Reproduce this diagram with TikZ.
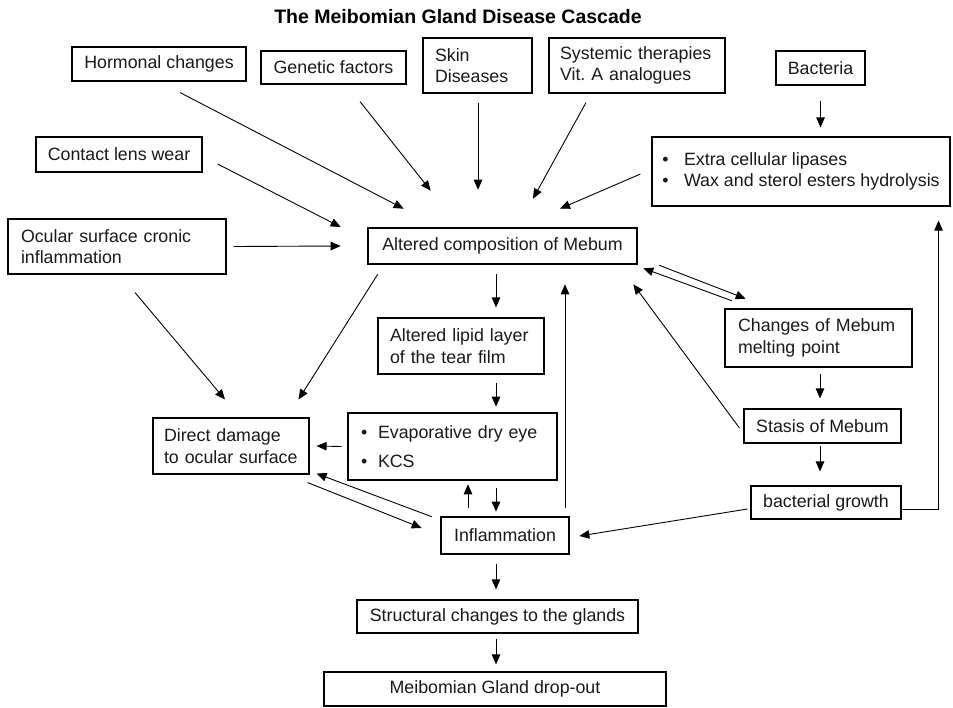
\documentclass[tikz,border=0pt]{standalone}
\usepackage{fontspec}
\setmainfont{Liberation Sans}
\usetikzlibrary{arrows.meta,calc}
\frenchspacing
\begin{document}
\begin{tikzpicture}[x=1pt,y=-1pt,
  box/.style={draw, line width=1.1pt, inner sep=0pt, font=\fontsize{17.8}{21.7}\selectfont, align=center, text=black!90},
  tbox/.style={box, line width=2.6pt},
  arr/.style={-{Triangle[length=10pt,width=8.5pt]}, line width=0.9pt},
]
\useasboundingbox (0,0) rectangle (953,707);

\node[font=\fontsize{19.5}{22}\selectfont\bfseries] (title) at (458,17) {The Meibomian Gland Disease Cascade};

% top row
\node[box, minimum width=174pt, minimum height=34pt] (horm) at (159,64) {Hormonal changes};
\node[box, minimum width=145pt, minimum height=33pt] (gen) at (333.5,67.5) {Genetic factors};
\node[box, align=left, inner xsep=12pt, text width=85pt, minimum height=55pt] (skin) at (477.5,65.5) {Skin\\Diseases};
\node[box, align=left, inner xsep=11pt, text width=154pt, minimum height=55pt] (sys) at (637,65.5) {Systemic therapies\\Vit.\ A analogues};
\node[box, minimum width=89pt, minimum height=34pt] (bact) at (820.5,68) {Bacteria};
\node[box, align=left, minimum width=298pt, minimum height=69pt] (extra) at (801,171.5) {\textbullet\hspace{15.5pt}Extra cellular lipases\\\textbullet\hspace{15.5pt}Wax and sterol esters hydrolysis};

% left column
\node[box, minimum width=166pt, minimum height=35pt] (contact) at (119,154.5) {Contact lens wear};
\node[box, align=left, inner xsep=13pt, text width=192pt, minimum height=55pt] (ocular) at (117,246.5) {Ocular surface cronic\\inflammation};

% centre
\node[tbox, minimum width=269pt, minimum height=36pt] (altered) at (502.5,246) {Altered composition of Mebum};
\node[box, align=left, inner xsep=12pt, text width=142pt, minimum height=56pt] (lipid) at (461,346) {Altered lipid layer\\of the tear film};
\node[tbox, align=left, inner xsep=13pt, text width=183pt, minimum height=67pt] (evap) at (452.5,446.5) {\textbullet\hspace{10.8pt}Evaporative dry eye\\[8pt]\textbullet\hspace{10.8pt}KCS};
\node[box, align=left, inner xsep=11pt, text width=134pt, minimum height=56pt] (direct) at (231,446) {Direct damage\\to ocular surface};
\node[tbox, minimum width=128pt, minimum height=37pt] (inflam) at (505,535.5) {Inflammation};
\node[box, minimum width=281pt, minimum height=33pt] (struct) at (497.5,616.5) {Structural changes to the glands};
\node[box, minimum width=342pt, minimum height=34pt] (drop) at (495,689) {Meibomian Gland drop-out};

% right column
\node[tbox, align=left, inner xsep=13pt, text width=161pt, minimum height=58pt] (melt) at (818.5,338) {Changes of Mebum\\melting point};
\node[box, minimum width=157pt, minimum height=34pt] (stasis) at (822.5,426) {Stasis of Mebum};
\node[box, minimum width=150pt, minimum height=33pt] (bg) at (826,502.5) {bacterial growth};

% arrows into altered composition
\draw[arr] ($(horm.south)+(21,11)$) -- ($(altered.north west)+(37,-18)$);
\draw[arr] ($(gen.south)+(26.5,17)$) -- ($(altered.north west)+(64,-36)$);
\draw[arr] ($(skin.south)+(0.5,9)$) -- ($(altered.north)+(-24.5,-37)$);
\draw[arr] ($(sys.south)+(-51,9)$) -- ($(altered.north)+(30.5,-28)$);
\draw[arr] ($(extra.west)+(-11,2.5)$) -- ($(altered.north)+(57.5,-18)$);
\draw[arr] ($(bact.south)+(0,15)$) -- ($(extra.north)+(19.5,-9)$);
\draw[arr] ($(contact.east)+(15,9.5)$) -- ($(altered.west)+(-26,-19)$);
\draw[arr] ($(ocular.east)+(7,0)$) -- ($(altered.west)+(-26,0)$);

% to direct damage
\draw[arr] ($(ocular.south)+(18,18)$) -- ($(direct.north)+(-6,-18)$);
\draw[arr] ($(altered.south west)+(11,9)$) -- ($(direct.north east)+(-11,-18)$);

% central chain
\draw[arr] ($(altered.south)+(-6.5,9)$) -- ($(lipid.north)+(35,-10)$);
\draw[arr] ($(lipid.south)+(35,8)$) -- ($(evap.north)+(43.5,-5)$);
\draw[arr] ($(inflam.north)+(60,-8)$) -- ($(altered.south)+(62.5,19)$);
\draw[arr] ($(evap.west)+(-5,0)$) -- ($(direct.east)+(7,0)$);
\draw[arr] ($(direct.south east)+(-2,8)$) -- ($(inflam.west)+(-18,-7.5)$);
\draw[arr] ($(inflam.north west)+(-8,1)$) -- ($(direct.south east)+(7,-1)$);
\draw[arr] ($(inflam.north)+(-37,-8)$) -- ($(evap.south)+(15.5,3)$);
\draw[arr] ($(evap.south)+(43.5,7)$) -- ($(inflam.north)+(-9,-4)$);
\draw[arr] ($(inflam.south)+(-9,9)$) -- ($(struct.north)+(-1.5,-10)$);
\draw[arr] ($(struct.south)+(-1.5,5)$) -- ($(drop.north)+(1,-7)$);

% right side
\draw[arr] ($(altered.south east)+(21,0)$) -- ($(melt.north west)+(22,-9)$);
\draw[arr] ($(melt.north west)+(8,-7)$) -- ($(altered.south east)+(5,3)$);
\draw[arr] ($(stasis.west)+(-4,2)$) -- ($(altered.south east)+(-5,19)$);
\draw[arr] ($(melt.south)+(1.5,6)$) -- ($(stasis.north)+(-2.5,-10)$);
\draw[arr] ($(stasis.south)+(-2.5,2)$) -- ($(bg.north)+(-6,-14)$);
\draw[arr] ($(bg.west)+(-3,6.5)$) -- ($(inflam.east)+(9,0.5)$);
\draw[arr] ($(bg.east)+(0,6.5)$) -| ($(extra.south east)+(-12,14)$);
\end{tikzpicture}
\end{document}
